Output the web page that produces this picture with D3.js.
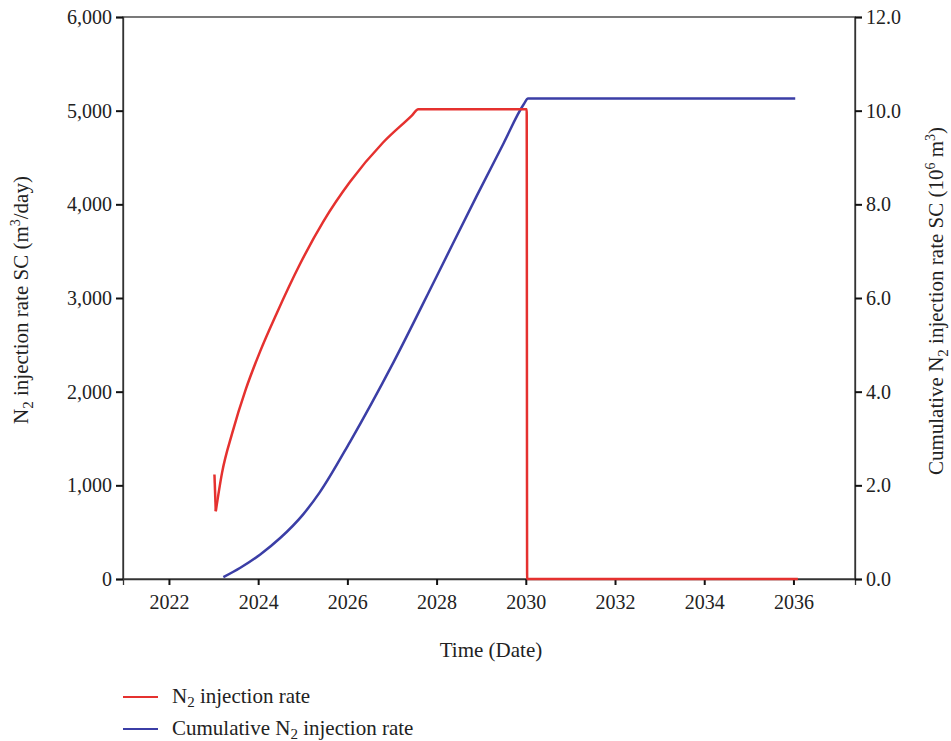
<!DOCTYPE html>
<html>
<head>
<meta charset="utf-8">
<script src="https://cdn.jsdelivr.net/npm/d3@7"></script>
<style>
  body { margin: 0; background: #fff; }
  text { font-family: "Liberation Serif", "DejaVu Serif", serif; fill: #222; }
</style>
</head>
<body>
<div class="chart"></div>
<script>
// injection rate (m3/day) vs time
var rateYears  = [2023.02, 2023.05, 2023.19, 2023.42, 2023.72, 2024.04, 2024.41, 2024.93, 2025.46, 2026.06, 2026.80, 2027.45, 2027.59, 2030.02, 2030.03, 2036.1];
var rateValues = [1115, 723, 1133, 1560, 2021, 2425, 2830, 3355, 3815, 4240, 4660, 4950, 5016, 5016, 0, 0];

// cumulative injection (10^6 m3)
var cumYears  = [2023.22, 2023.6, 2024.04, 2024.5, 2025.0, 2025.38, 2026.06, 2027.03, 2028.0, 2028.9, 2029.5, 2029.95, 2030.05, 2036.04];
var cumValues = [0.04, 0.24, 0.52, 0.88, 1.37, 1.85, 2.93, 4.62, 6.46, 8.18, 9.3, 10.13, 10.26, 10.26];

var xTicks = [2022, 2024, 2026, 2028, 2030, 2032, 2034, 2036];
var yLeftTicks = [0, 1000, 2000, 3000, 4000, 5000, 6000];
var yRightTicks = [0, 2, 4, 6, 8, 10, 12];

var rateData = rateYears.map(function(d, i) { return {x: d, y: rateValues[i]}; });
var cumData = cumYears.map(function(d, i) { return {x: d, y: cumValues[i]}; });

var margin = {top: 17, right: 96, bottom: 162, left: 123},
    width = 951 - margin.left - margin.right,
    height = 741 - margin.top - margin.bottom;

var svg = d3.select(".chart").append("svg")
    .attr("width", 951)
    .attr("height", 741);

var g = svg.append("g")
    .attr("transform", "translate(" + margin.left + "," + margin.top + ")");

var x = d3.scaleLinear().domain([2020.97, 2037.38]).range([0, width]);
var yL = d3.scaleLinear().domain([0, 6000]).range([height, 0]);
var yR = d3.scaleLinear().domain([0, 12]).range([height, 0]);

// frame
g.append("rect")
    .attr("width", width).attr("height", height)
    .attr("fill", "none").attr("stroke", "#333").attr("stroke-width", 1.3);

function styleAxis(sel) {
  sel.attr("font-family", "Liberation Serif, serif");
  sel.select(".domain").attr("stroke", "#333").attr("stroke-width", 1.3);
  sel.selectAll(".tick line").attr("stroke", "#111").attr("stroke-width", 2);
  sel.selectAll(".tick text").attr("font-size", 20).attr("fill", "#222");
}

g.append("g")
    .attr("transform", "translate(0," + height + ")")
    .call(d3.axisBottom(x).tickValues(xTicks).tickFormat(d3.format("d")).tickSize(6).tickPadding(10))
    .call(styleAxis);

g.append("g")
    .call(d3.axisLeft(yL).tickValues(yLeftTicks).tickFormat(d3.format(",")).tickSize(7).tickPadding(4))
    .call(styleAxis);

g.append("g")
    .attr("transform", "translate(" + width + ",0)")
    .call(d3.axisRight(yR).tickValues(yRightTicks).tickFormat(d3.format(".1f")).tickSize(7).tickPadding(4))
    .call(styleAxis);

// lines
var lineL = d3.line().x(function(d) { return x(d.x); }).y(function(d) { return yL(d.y); }).curve(d3.curveMonotoneX);
var lineR = d3.line().x(function(d) { return x(d.x); }).y(function(d) { return yR(d.y); }).curve(d3.curveMonotoneX);
var lineLin = d3.line().x(function(d) { return x(d.x); }).y(function(d) { return yL(d.y); });

g.append("path").datum(cumData)
    .attr("d", lineR)
    .attr("fill", "none").attr("stroke", "#3b3ea6").attr("stroke-width", 2.5);

// first drop of the rate drawn straight, rest smoothed
g.append("path").datum(rateData.slice(0, 2))
    .attr("d", lineLin)
    .attr("fill", "none").attr("stroke", "#e5312f").attr("stroke-width", 2.5);
g.append("path").datum(rateData.slice(1))
    .attr("d", lineL)
    .attr("fill", "none").attr("stroke", "#e5312f").attr("stroke-width", 2.5)
    .attr("stroke-linejoin", "round");

// axis titles
var lt = svg.append("text")
    .attr("transform", "translate(28,300) rotate(-90)")
    .attr("text-anchor", "middle").attr("font-size", 21);
lt.append("tspan").text("N");
lt.append("tspan").attr("font-size", 15).attr("dy", 5).text("2");
lt.append("tspan").attr("dy", -5).text(" injection rate SC (m");
lt.append("tspan").attr("font-size", 14).attr("dy", -8).text("3");
lt.append("tspan").attr("dy", 8).text("/day)");

var rt = svg.append("text")
    .attr("transform", "translate(943,301) rotate(-90)")
    .attr("text-anchor", "middle").attr("font-size", 21);
rt.append("tspan").text("Cumulative N");
rt.append("tspan").attr("font-size", 15).attr("dy", 5).text("2");
rt.append("tspan").attr("dy", -5).text(" injection rate SC (10");
rt.append("tspan").attr("font-size", 14).attr("dy", -8).text("6");
rt.append("tspan").attr("dy", 8).text(" m");
rt.append("tspan").attr("font-size", 14).attr("dy", -8).text("3");
rt.append("tspan").attr("dy", 8).text(")");

svg.append("text")
    .attr("x", 491).attr("y", 657)
    .attr("text-anchor", "middle").attr("font-size", 21)
    .text("Time (Date)");

// legend
var legend = [
  {color: "#e5312f", pre: "", post: " injection rate", y: 697},
  {color: "#3b3ea6", pre: "Cumulative ", post: " injection rate", y: 729}
];
legend.forEach(function(l) {
  svg.append("line")
      .attr("x1", 123).attr("x2", 158).attr("y1", l.y).attr("y2", l.y)
      .attr("stroke", l.color).attr("stroke-width", 2);
  var t = svg.append("text")
      .attr("x", 172).attr("y", l.y + 6).attr("font-size", 21);
  t.append("tspan").text(l.pre + "N");
  t.append("tspan").attr("font-size", 15).attr("dy", 4).text("2");
  t.append("tspan").attr("dy", -4).text(l.post);
});
</script>
</body>
</html>
